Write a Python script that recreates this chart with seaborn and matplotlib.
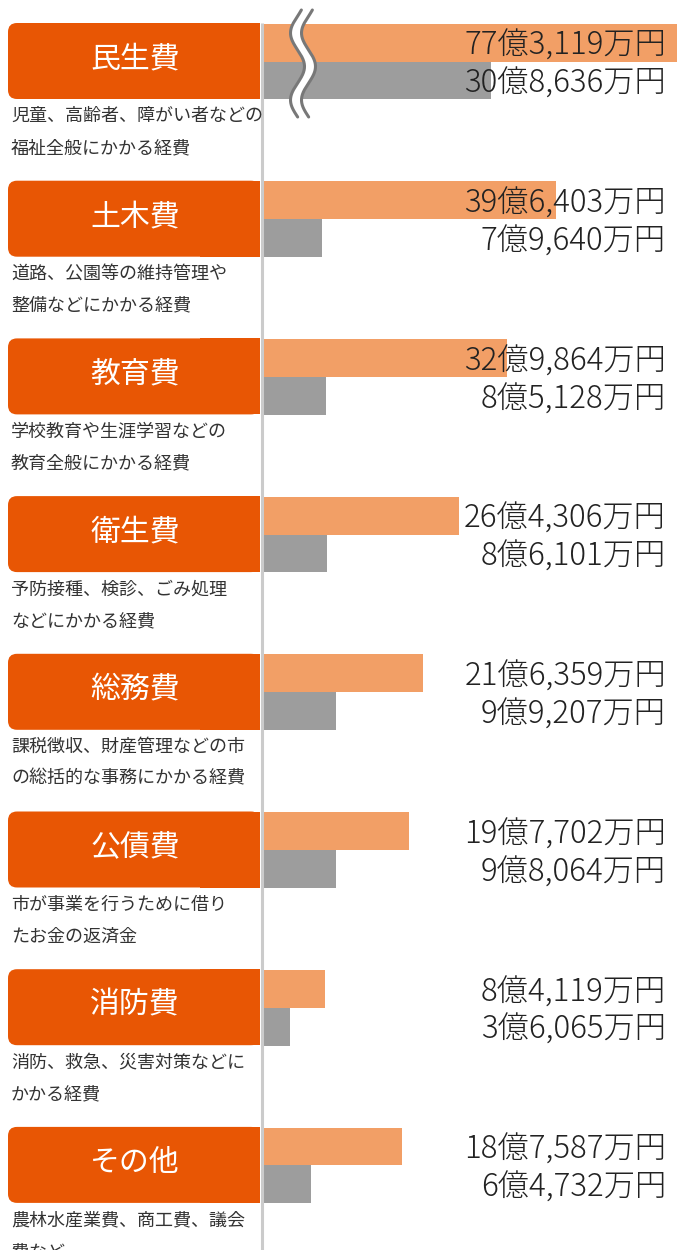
import numpy as np
import pandas as pd
import matplotlib
matplotlib.use("Agg")
import matplotlib.pyplot as plt
from matplotlib.patches import FancyBboxPatch, Rectangle
import seaborn as sns

# data (万円)
categories = ["民生費", "土木費", "教育費", "衛生費", "総務費", "公債費", "消防費", "その他"]
descriptions = [
    ["児童、高齢者、障がい者などの", "福祉全般にかかる経費"],
    ["道路、公園等の維持管理や", "整備などにかかる経費"],
    ["学校教育や生涯学習などの", "教育全般にかかる経費"],
    ["予防接種、検診、ごみ処理", "などにかかる経費"],
    ["課税徴収、財産管理などの市", "の総括的な事務にかかる経費"],
    ["市が事業を行うために借り", "たお金の返済金"],
    ["消防、救急、災害対策などに", "かかる経費"],
    ["農林水産業費、商工費、議会", "費など"],
]
total_man = [773119, 396403, 329864, 264306, 216359, 197702, 84119, 187587]
general_man = [308636, 79640, 85128, 86101, 99207, 98064, 36065, 64732]
series = ["総額", "一般会計"]

ORANGE_BOX = "#E85604"
ORANGE_BAR = "#F29F66"
GRAY_BAR = "#9D9D9D"
LINE = "#CBCBCB"

sns.set_theme(style="white")
plt.rcParams['font.family'] = ['Noto Sans CJK JP', 'DejaVu Sans']

W, H = 677, 1250
fig = plt.figure(figsize=(W / 100, H / 100), dpi=100)
fig.patch.set_facecolor("white")

STEP = 157.7   # px between groups
Y0 = 61.5      # px, center of first group
X0 = 263       # px, bar origin

df = pd.DataFrame({
    "cat": categories * 2,
    "series": [series[0]] * len(categories) + [series[1]] * len(categories),
    "oku": [v / 10000 for v in total_man + general_man],
})

ax = fig.add_axes([X0 / W, 0, 1 - X0 / W, 1])
sns.barplot(data=df, y="cat", x="oku", hue="series", orient="h",
            palette=[ORANGE_BAR, GRAY_BAR], width=0.48, saturation=1,
            linewidth=0, legend=False, ax=ax)
ax.set_xlim(0, (W - X0) / 7.4)
ax.set_ylim((H - Y0) / STEP, -Y0 / STEP)
ax.axis("off")


def fmt(v):
    oku, man = divmod(v, 10000)
    return f"{oku}億{man:,}万円" if oku else f"{man:,}万円"


lab_x = (666 - X0) / (W - X0)
for cont, vals in zip(ax.containers, [total_man, general_man]):
    for bar, v in zip(cont, vals):
        yc = bar.get_y() + bar.get_height() / 2
        ax.annotate(fmt(v), (lab_x, yc), xycoords=ax.get_yaxis_transform(),
                    xytext=(0, -2.5), textcoords="offset points",
                    ha="right", va="center", fontsize=22.5, fontweight="light",
                    color="#222222")

# left column + decorations, pixel coordinates
deco = fig.add_axes([0, 0, 1, 1])
deco.set_xlim(0, W)
deco.set_ylim(H, 0)
deco.axis("off")
deco.patch.set_alpha(0)

deco.plot([262, 262], [23, H], color=LINE, lw=2.2, solid_capstyle="butt")

for i, (name, desc) in enumerate(zip(categories, descriptions)):
    top = Y0 - 38.5 + STEP * i
    deco.add_patch(FancyBboxPatch((8, top), 252, 76,
                                  boxstyle="round,pad=0,rounding_size=9",
                                  fc=ORANGE_BOX, ec="none"))
    deco.add_patch(Rectangle((200, top), 60, 76, fc=ORANGE_BOX, ec="none"))
    deco.text(135, top + 36, name, ha="center", va="center",
              fontsize=21.5, color="white")
    deco.text(11, top + 93, desc[0], ha="left", va="center",
              fontsize=13, color="#333333")
    deco.text(11, top + 125, desc[1], ha="left", va="center",
              fontsize=13, color="#333333")

# break mark on first bar
yy = np.linspace(10, 117, 200)
xc = 303 - 7 * np.cos(2 * np.pi * (yy - 33) / 67)
deco.plot(xc, yy, color="white", lw=8, solid_capstyle="butt")
deco.plot(xc - 5.5, yy, color="#787878", lw=2.2)
deco.plot(xc + 5.5, yy, color="#787878", lw=2.2)

fig.savefig("out.png", dpi=100)
